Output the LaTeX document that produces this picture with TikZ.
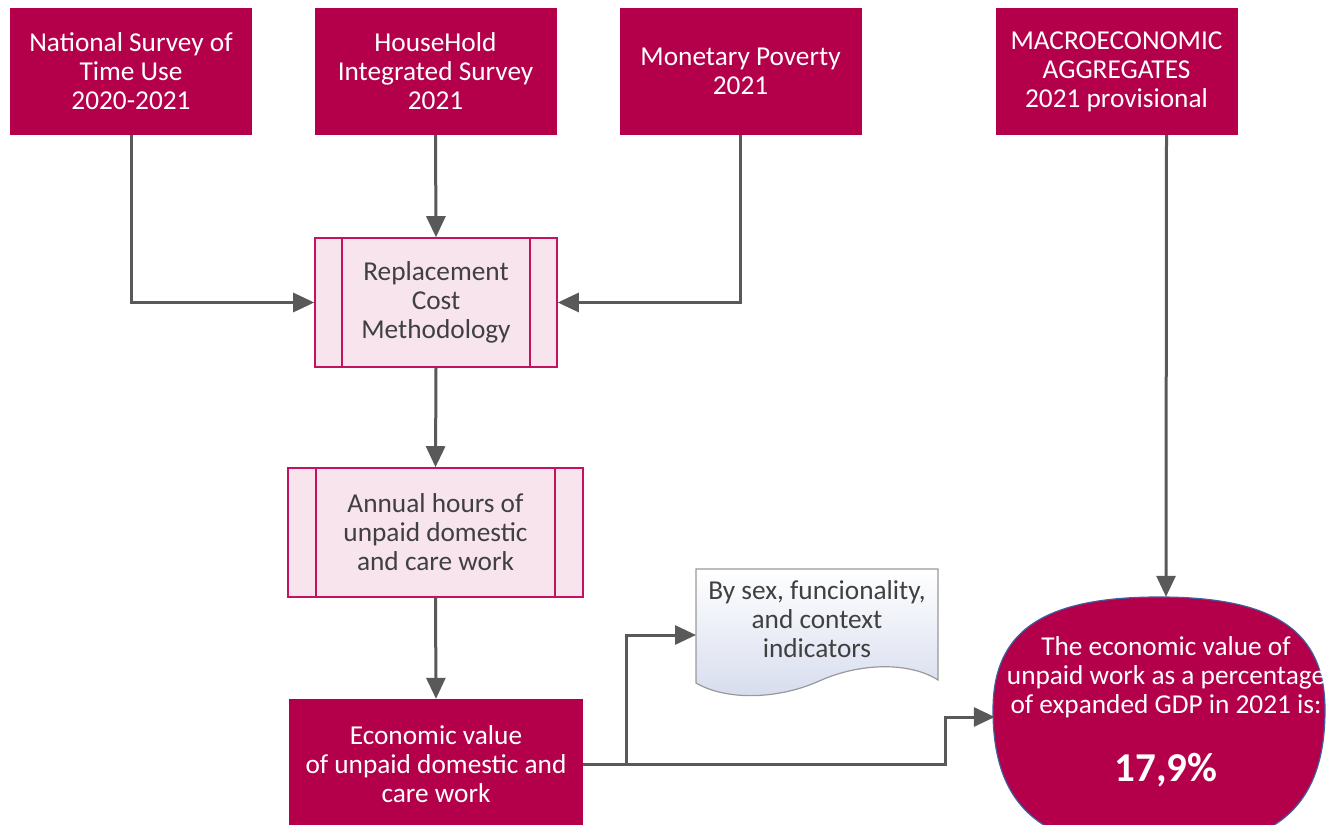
\documentclass[tikz,border=0pt]{standalone}
\usepackage{fontspec}
\setmainfont{Carlito}
\usepackage{xcolor}
\usepackage{tikz}
\usetikzlibrary{arrows.meta}
\definecolor{crimson}{RGB}{180,0,74}
\definecolor{pinkfill}{RGB}{247,228,236}
\definecolor{pinkline}{RGB}{196,18,96}
\definecolor{textgray}{RGB}{64,64,64}
\definecolor{arrowgray}{RGB}{89,89,89}
\definecolor{docblue}{RGB}{214,220,238}
\definecolor{ovalline}{RGB}{62,96,158}

\begin{document}
\begin{tikzpicture}[x=1pt,y=-1pt]
    \clip (0,0) rectangle (1326,825);
    \def\txt{\fontsize{27.3}{29}\selectfont}

    \tikzstyle{source}=[fill=crimson,text=white,minimum width=242pt,minimum height=127pt,align=center,font=\txt]
    \tikzstyle{proc}=[fill=pinkfill,draw=pinkline,line width=1.6pt,text=textgray,minimum height=129pt,align=center,font=\txt]
    \tikzstyle{edge}=[draw=pinkline,line width=1.6pt]
    \tikzstyle{result}=[minimum width=342pt,minimum height=250pt]

    \node[source]  (nat) at (131,71.5) {National Survey of\\Time Use\\2020-2021};
    \node[source]  (hh) at (435.5,71.5) {HouseHold\\Integrated Survey\\2021};
    \node[source]  (mon) at (740.5,71.5) {Monetary Poverty\\2021};
    \node[source]  (mac) at (1116.5,71.5) {MACROECONOMIC\\AGGREGATES\\2021 provisional};

    \node[proc,minimum width=242pt]  (rep) at (436,302.5) {Replacement\\Cost\\Methodology};
    \draw[edge] ([xshift=28pt]rep.north west) -- ([xshift=28pt]rep.south west);
    \draw[edge] ([xshift=-28pt]rep.north east) -- ([xshift=-28pt]rep.south east);

    \node[proc,minimum width=295pt]  (ann) at (435.5,532.5) {Annual hours of\\unpaid domestic\\and care work};
    \draw[edge] ([xshift=29pt]ann.north west) -- ([xshift=29pt]ann.south west);
    \draw[edge] ([xshift=-29pt]ann.north east) -- ([xshift=-29pt]ann.south east);

    \node[source,minimum width=294pt,minimum height=130pt]  (eco) at (436,764) {Economic value\\of unpaid domestic and\\care work};

    % document shape
    \draw[draw=gray!80,line width=1.2pt,top color=white,bottom color=docblue]
        (696,569) -- (938,569) -- (938,680)
        .. controls (910,662) and (860,662) .. (817,682)
        .. controls (775,700) and (725,700) .. (696,683) -- cycle;
    \node[text=textgray,align=center,font=\txt,minimum width=242pt]  (doc) at (817,619) {By sex, funcionality,\\and context\\indicators};

    % result oval
    \draw[fill=crimson,draw=ovalline,line width=1.2pt]
        (993,710) .. controls (993,631) and (1043,597) .. (1159,597)
        .. controls (1275,597) and (1325,631) .. (1325,710)
        .. controls (1325,808) and (1275,850) .. (1159,850)
        .. controls (1043,850) and (993,808) .. (993,710) -- cycle;
    \node[result]  (res) at (1166,722) {};
    \node[text=white,align=center,font=\txt]  (restxt) at (1166,677) {The economic value of\\unpaid work as a percentage\\of expanded GDP in 2021 is:};
    \node[text=white,font=\fontsize{41}{44}\selectfont\bfseries]  (pct) at (1166,770) {17,9\%};

    \coordinate (split) at (626,764);
    \coordinate (bend) at (945,717);
    \coordinate (docin) at (696,635);

    \tikzstyle{fwd} = [draw=arrowgray, line width=3pt, -{Triangle[length=21pt,width=19pt]}]

          \draw [fwd] (nat.south) |- (rep.west);
          \draw [fwd] (hh.south) -- (rep.north);
          \draw [fwd] (mon.south) |- (rep.east);
          \draw [fwd] (rep.south) -- (ann.north);
          \draw [fwd] (ann.south) -- (eco.north);
          \draw [fwd] (eco.east) -| (bend) -- (bend -| res.west);
          \draw [fwd] (split) |- (docin);
          \draw [fwd] ([xshift=50pt]mac.south) -- (res.north);

  \end{tikzpicture}
\end{document}
